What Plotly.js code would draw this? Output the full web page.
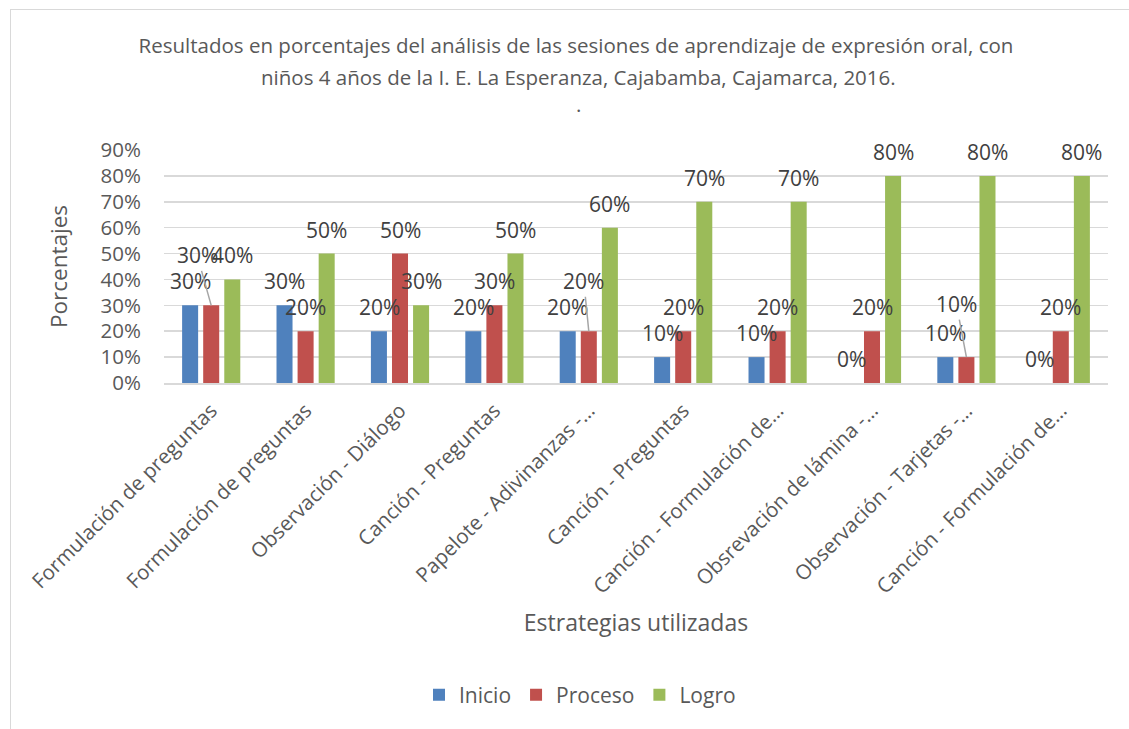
<!DOCTYPE html>
<html><head><meta charset="utf-8">
<script src="https://cdn.plot.ly/plotly-3.0.1.min.js"></script>
<style>body{margin:0;background:#fff}#wrap{position:relative;width:1129px;height:729px;overflow:hidden}
#frame{position:absolute;left:10px;top:9px;width:1140px;height:740px;border:1px solid #d9d9d9;pointer-events:none}</style>
</head><body><div id="wrap"><div id="chart" style="width:1129px;height:729px"></div><div id="frame"></div></div>
<script>
const categories = ["Formulación de preguntas","Formulación de preguntas","Observación - Diálogo","Canción - Preguntas","Papelote - Adivinanzas -…","Canción - Preguntas","Canción - Formulación de…","Obsrevación de lámina -…","Observación - Tarjetas -…","Canción - Formulación de…"];
const inicio  = [0.3,0.3,0.2,0.2,0.2,0.1,0.1,0.0,0.1,0.0];
const proceso = [0.3,0.2,0.5,0.3,0.2,0.2,0.2,0.2,0.1,0.2];
const logro   = [0.4,0.5,0.3,0.5,0.6,0.7,0.7,0.8,0.8,0.8];
const seriesNames = ["Inicio","Proceso","Logro"];
const colors = ["#4f81bd","#c0504d","#9bbb59"];
const titleLines = ["Resultados en porcentajes del análisis de las sesiones de aprendizaje de expresión oral, con",
                    "niños 4 años de la I. E. La Esperanza, Cajabamba, Cajamarca, 2016.", "."];

const FONT = "'Open Sans', sans-serif";
const W = 1129, H = 729, ML = 164, MR = 21, MT = 150, MB = 346;
const PW = W - ML - MR, PH = H - MT - MB;
const px2paperX = px => (px - ML) / PW;
const px2paperY = py => (H - MB - py) / PH;

const xs = categories.map((_, i) => i);
const series = [inicio, proceso, logro];
const traces = series.map((vals, k) => ({
  type: "bar", name: seriesNames[k], x: xs, y: vals,
  marker: {color: colors[k]}, hoverinfo: "skip"
}));

// data labels (outside end), with Excel-like displaced labels for crowded points
const slotPx = 21;
const displaced = {"1-0": [-14, -50], "1-4": [-5, -50], "1-8": [-10, -53]};
const annotations = [];
series.forEach((vals, k) => {
  vals.forEach((v, i) => {
    const key = k + "-" + i;
    const base = {x: i, y: v, xref: "x", yref: "y", text: Math.round(v * 100) + "%",
      font: {family: FONT, size: 21, color: "#404040"}, xshift: (k - 1) * slotPx};
    if (displaced[key]) {
      annotations.push(Object.assign(base, {showarrow: true, arrowhead: 0, arrowwidth: 1.5,
        arrowcolor: "#a6a6a6", ax: displaced[key][0], ay: displaced[key][1], standoff: 0}));
    } else {
      annotations.push(Object.assign(base, {showarrow: false, yshift: 24}));
    }
  });
});
annotations.push({xref: "paper", yref: "paper", x: px2paperX(578), y: px2paperY(77), yanchor: "middle",
  text: titleLines[1], showarrow: false, font: {family: FONT, size: 20.5, color: "#595959"}});
annotations.push({xref: "paper", yref: "paper", x: px2paperX(578), y: px2paperY(104), yanchor: "middle",
  text: titleLines[2], showarrow: false, font: {family: FONT, size: 20.5, color: "#595959"}});

const layout = {
  width: W, height: H,
  margin: {l: ML, r: MR, t: MT, b: MB},
  paper_bgcolor: "#fff", plot_bgcolor: "#fff",
  font: {family: FONT, color: "#595959"},
  title: {text: titleLines[0],
    font: {family: FONT, size: 20.5, color: "#595959"}, xref: "container", x: 576 / W, xanchor: "center",
    yref: "container", y: 1 - 46 / H, yanchor: "middle"},
  barmode: "group", bargap: 0.33, bargroupgap: 0.24,
  xaxis: {tickvals: xs, ticktext: categories, tickangle: -45, range: [-0.5, 9.5],
    tickfont: {family: FONT, size: 20.5, color: "#595959"}, showgrid: false,
    showline: true, linecolor: "#d9d9d9", linewidth: 1.5, ticks: "", ticklabelstandoff: 6,
    title: {text: "Estrategias utilizadas", font: {family: FONT, size: 23, color: "#595959"}, standoff: 16}},
  yaxis: {range: [0, 0.9], dtick: 0.1, tickformat: ".0%", showgrid: true, gridcolor: "#d9d9d9", gridwidth: 1.5,
    zeroline: false, tickfont: {family: FONT, size: 20.5, color: "#595959"}, ticklabelstandoff: 22,
    title: {text: "Porcentajes", font: {family: FONT, size: 22.5, color: "#595959"}, standoff: 26}},
  legend: {orientation: "h", xref: "container", yref: "container", x: 580 / W, xanchor: "center", y: 1 - 695 / H, yanchor: "middle",
    font: {family: FONT, size: 21, color: "#595959"}, itemwidth: 30, traceorder: "normal"},
  annotations: annotations
};
Plotly.newPlot("chart", traces, layout, {displayModeBar: false, staticPlot: true});
</script></body></html>
